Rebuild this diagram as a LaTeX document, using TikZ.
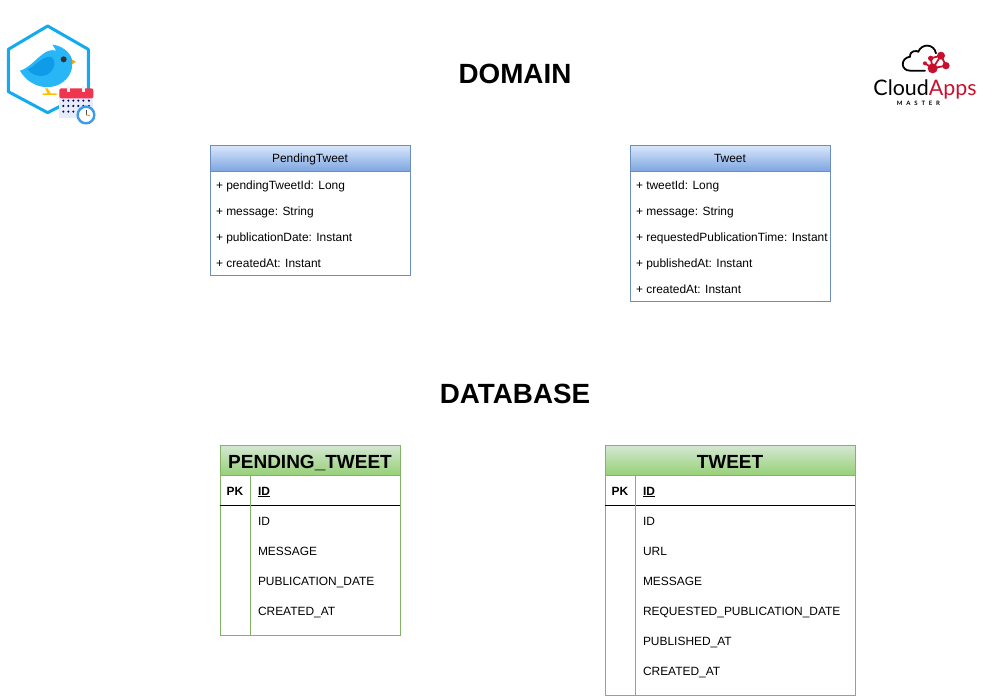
\documentclass[tikz,border=0pt]{standalone}
\usepackage{fontspec}
\setmainfont{Liberation Sans}
\newfontfamily\logofont{Lato}
\usetikzlibrary{positioning,shapes.geometric,calc}

\begin{document}
\begin{tikzpicture}[
    x=1pt, y=-1pt,
    line width=1pt,
    outer sep=0pt,
    font=\fontsize{11.95}{14}\selectfont,
    bigtitle/.style={font=\fontsize{27.8}{32}\selectfont\bfseries, inner sep=0pt},
    classhead/.style={rectangle, draw=classedge, top color=classtop, bottom color=classbottom, minimum width=200pt, minimum height=26pt, inner sep=0pt, text height=12pt, text depth=3pt, anchor=north west},
    classbody/.style={rectangle, draw=classedge, fill=white, minimum width=200pt, inner sep=0pt, anchor=north west},
    attr/.style={inner xsep=6pt, inner ysep=0pt, minimum height=26pt, text height=12pt, text depth=2pt, anchor=north west},
    tablehead/.style={rectangle, draw=tableedge, top color=tabletop, bottom color=tablebottom, minimum height=30pt, inner sep=0pt, text height=20pt, text depth=4pt, anchor=north west, font=\fontsize{19}{24}\selectfont\bfseries},
    tablebody/.style={rectangle, draw=tableedge, fill=white, inner sep=0pt, anchor=north west},
    pkcell/.style={minimum width=30pt, minimum height=30pt, inner sep=0pt, text height=12pt, text depth=2pt, anchor=north west, font=\fontsize{11.95}{14}\selectfont\bfseries},
    col/.style={inner xsep=8pt, inner ysep=0pt, minimum height=30pt, text height=12pt, text depth=2pt, anchor=north west},
    keyline/.style={draw=black},
    colline/.style={draw=tableedge},
]
    \definecolor{classedge}{HTML}{6C8EBF}
    \definecolor{classtop}{HTML}{DAE8FC}
    \definecolor{classbottom}{HTML}{7EA6E0}
    \definecolor{tableedge}{HTML}{82B366}
    \definecolor{tabletop}{HTML}{D5E8D4}
    \definecolor{tablebottom}{HTML}{97D077}
    \definecolor{birdblue}{HTML}{29B6F6}
    \definecolor{birddark}{HTML}{0E9BE8}
    \definecolor{hexblue}{HTML}{12AAF0}
    \definecolor{calred}{HTML}{F0354F}
    \definecolor{calbody}{HTML}{E6ECFA}
    \definecolor{clockblue}{HTML}{3D9BE9}
    \definecolor{appsred}{HTML}{C8102E}

    \useasboundingbox (0,0) rectangle (1001,696);

    % Titles
    \node[bigtitle] (domain) at (515,73.7) {DOMAIN};
    \node[bigtitle] (database) at (515,393.7) {DATABASE};

    % Bird logo
    \begin{scope}[shift={(0,10)}, x=0.3333pt, y=-0.3333pt]
        \draw[hexblue, line width=3pt, line join=round] (143,48) -- (265,118) -- (265,245) -- (143,308) -- (25,245) -- (25,118) -- cycle;
        \fill[orange!50!yellow] (135,235) -- (143,235) -- (152,250) -- (170,250) -- (170,255) -- (128,255) -- (128,250) -- (143,250) -- cycle;
        \fill[orange!70!yellow] (215,148) -- (228,155) -- (217,163) -- cycle;
        \fill[birdblue] (60,182) .. controls (85,175) and (105,150) .. (125,135) .. controls (140,122) and (155,118) .. (168,122) .. controls (165,115) and (160,108) .. (157,104) .. controls (175,105) and (205,118) .. (215,145) .. controls (222,175) and (210,205) .. (180,222) .. controls (150,240) and (90,235) .. (60,182) -- cycle;
        \fill[birddark] (82,178) .. controls (105,170) and (125,140) .. (150,140) .. controls (170,145) and (168,180) .. (140,195) .. controls (120,203) and (95,195) .. (82,178) -- cycle;
        \fill[black!80] (191,148) circle (9);
        % Calendar
        \fill[calbody] (178,250) rectangle (280,325);
        \fill[calred, rounded corners=2pt] (178,235) rectangle (280,265);
        \fill[white!90!gray] (201,228) rectangle (209,246);
        \fill[white!90!gray] (246,228) rectangle (254,246);
        \foreach \px in {190,205,220,235,250,267} {
            \foreach \py in {272,288} {
                \fill[blue!40!black] (\px,\py) circle (3.5);
            }
        }
        \foreach \px in {190,205,220} {
            \fill[blue!40!black] (\px,305) circle (3.5);
        }
        % Clock
        \fill[white] (258,315) circle (28);
        \draw[clockblue, line width=2.4pt] (258,315) circle (25);
        \draw[black!70, line width=0.7pt] (258,300) -- (258,315);
        \draw[orange!80!yellow, line width=0.9pt] (258,315) -- (270,317);
    \end{scope}

    % CloudApps logo
    \begin{scope}[shift={(860,30)}, x=0.3333pt, y=-0.3333pt]
        \draw[black, line width=1.8pt, line cap=round] (195,122) -- (150,122) .. controls (122,122) and (120,85) .. (150,80) .. controls (150,60) and (170,62) .. (175,65) .. controls (185,40) and (222,40) .. (228,70);
        \draw[appsred, line width=1.8pt] (195,100) -- (218,115) -- (243,77) -- (212,85) -- (218,115) -- (258,107) -- (243,77);
        \fill[appsred] (218,115) circle (15);
        \fill[appsred] (243,77) circle (12);
        \fill[appsred] (212,85) circle (8);
        \fill[appsred] (258,107) circle (11);
        \fill[appsred] (195,100) circle (6);
    \end{scope}
    \node[inner sep=0pt, font=\logofont\fontsize{21.4}{26}\selectfont] (cloudapps) at (925,89) {Cloud\textcolor{appsred}{Apps}};
    \node[inner sep=0pt, font=\logofont\bfseries\fontsize{6}{7}\selectfont] (master) at (918.5,103) {M\hspace{3.8pt}A\hspace{3.8pt}S\hspace{3.8pt}T\hspace{3.8pt}E\hspace{3.8pt}R};

    % Domain classes
    \node[classhead] (pendingHead) at (210,145) {PendingTweet};
    \node[classbody, minimum height=104pt] (pendingBody) at (pendingHead.south west) {};
    \node[attr] (pendingId) at (pendingBody.north west) {+ pendingTweetId: Long};
    \node[attr, below=0pt of pendingId.south west, anchor=north west] (pendingMsg) {+ message: String};
    \node[attr, below=0pt of pendingMsg.south west, anchor=north west] (pendingDate) {+ publicationDate: Instant};
    \node[attr, below=0pt of pendingDate.south west, anchor=north west] (pendingCreated) {+ createdAt: Instant};

    \node[classhead] (tweetHead) at (630,145) {Tweet};
    \node[classbody, minimum height=130pt] (tweetBody) at (tweetHead.south west) {};
    \node[attr] (tweetId) at (tweetBody.north west) {+ tweetId: Long};
    \node[attr, below=0pt of tweetId.south west, anchor=north west] (tweetMsg) {+ message: String};
    \node[attr, below=0pt of tweetMsg.south west, anchor=north west] (tweetReq) {+ requestedPublicationTime: Instant};
    \node[attr, below=0pt of tweetReq.south west, anchor=north west] (tweetPub) {+ publishedAt: Instant};
    \node[attr, below=0pt of tweetPub.south west, anchor=north west] (tweetCreated) {+ createdAt: Instant};

    % Database tables
    \node[tablehead, minimum width=180pt] (ptableHead) at (220,445) {PENDING\_TWEET};
    \node[tablebody, minimum width=180pt, minimum height=160pt] (ptableBody) at (ptableHead.south west) {};
    \node[pkcell] (ptablePk) at (ptableBody.north west) {PK};
    \node[col, right=0pt of ptablePk.north east, anchor=north west] (ptableKey) {\textbf{\underline{ID}}};
    \node[col, below=0pt of ptableKey.south west, anchor=north west] (ptableId) {ID};
    \node[col, below=0pt of ptableId.south west, anchor=north west] (ptableMsg) {MESSAGE};
    \node[col, below=0pt of ptableMsg.south west, anchor=north west] (ptableDate) {PUBLICATION\_DATE};
    \node[col, below=0pt of ptableDate.south west, anchor=north west] (ptableCreated) {CREATED\_AT};
    \draw[keyline] (ptablePk.south west) -- (ptablePk.south -| ptableBody.east);
    \draw[colline] (ptablePk.north east) -- (ptablePk.north east |- ptableBody.south);

    \node[tablehead, minimum width=250pt] (ttableHead) at (605,445) {TWEET};
    \node[tablebody, minimum width=250pt, minimum height=220pt] (ttableBody) at (ttableHead.south west) {};
    \node[pkcell] (ttablePk) at (ttableBody.north west) {PK};
    \node[col, right=0pt of ttablePk.north east, anchor=north west] (ttableKey) {\textbf{\underline{ID}}};
    \node[col, below=0pt of ttableKey.south west, anchor=north west] (ttableId) {ID};
    \node[col, below=0pt of ttableId.south west, anchor=north west] (ttableUrl) {URL};
    \node[col, below=0pt of ttableUrl.south west, anchor=north west] (ttableMsg) {MESSAGE};
    \node[col, below=0pt of ttableMsg.south west, anchor=north west] (ttableReq) {REQUESTED\_PUBLICATION\_DATE};
    \node[col, below=0pt of ttableReq.south west, anchor=north west] (ttablePub) {PUBLISHED\_AT};
    \node[col, below=0pt of ttablePub.south west, anchor=north west] (ttableCreated) {CREATED\_AT};
    \draw[keyline] (ttablePk.south west) -- (ttablePk.south -| ttableBody.east);
    \draw[colline] (ttablePk.north east) -- (ttablePk.north east |- ttableBody.south);
\end{tikzpicture}
\end{document}
